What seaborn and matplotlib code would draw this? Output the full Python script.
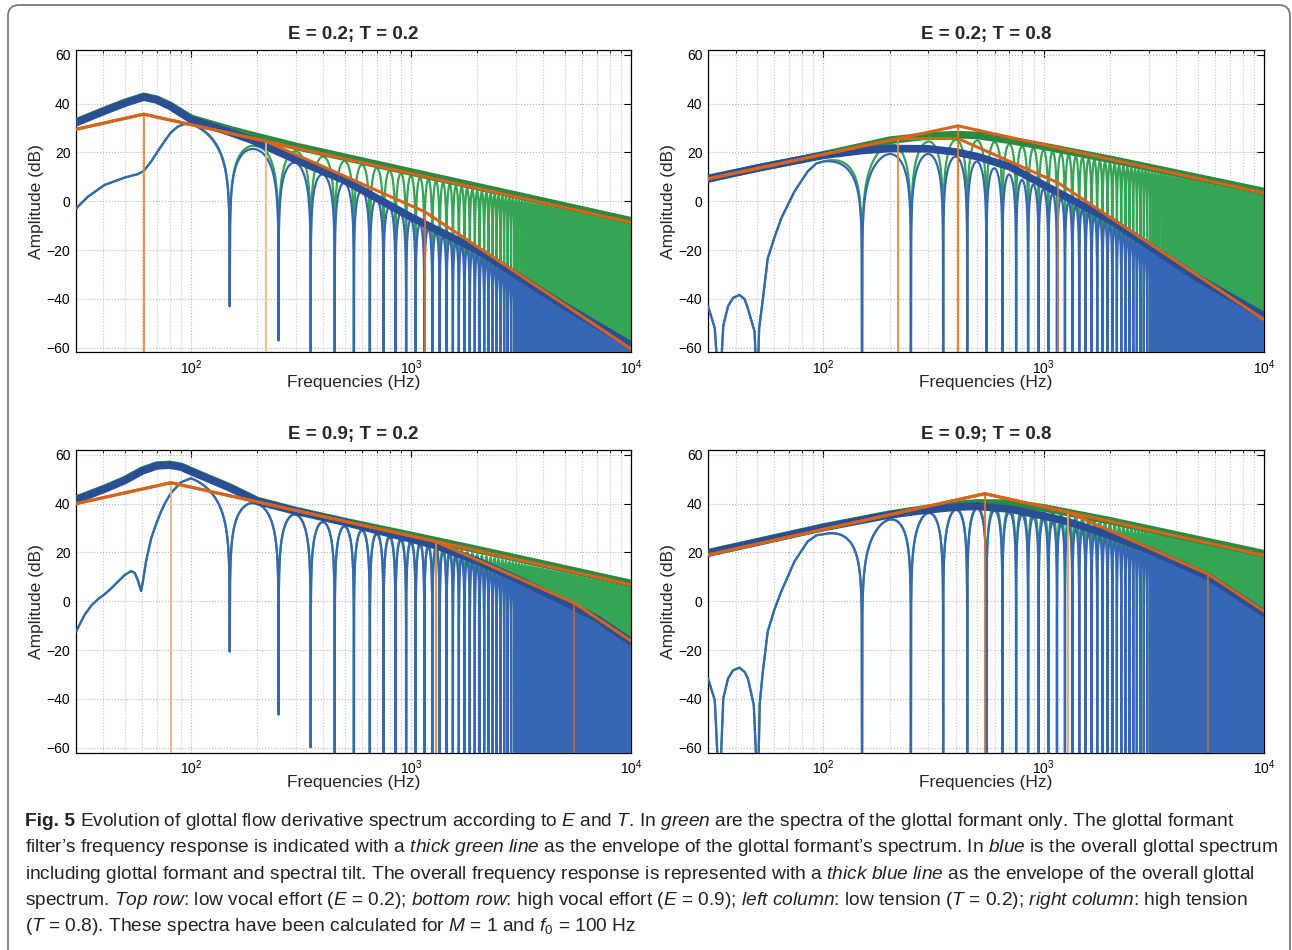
import numpy as np
import matplotlib
matplotlib.use("Agg")
import matplotlib.pyplot as plt
import seaborn as sns
from matplotlib.patches import FancyBboxPatch
from matplotlib.transforms import IdentityTransform
from matplotlib.ticker import FixedLocator, FixedFormatter, NullFormatter

sns.set_theme(style="white")
plt.rcParams.update({
    "font.family": ["Liberation Sans", "DejaVu Sans"],
    "mathtext.fontset": "custom",
    "mathtext.rm": "Liberation Sans",
    "mathtext.it": "Liberation Sans:italic",
    "mathtext.bf": "Liberation Sans:bold",
    "axes.edgecolor": "black",
    "axes.linewidth": 0.9,
})

F0 = 100.0  # f0 from the caption, spacing of the harmonics
X_LIM = (30, 10000)
Y_LIM = (-62, 62)
Y_TICKS = [-60, -40, -20, 0, 20, 40, 60]
X_TICKS = [100, 1000, 10000]
X_TICK_LABELS = ["$10^{2}$", "$10^{3}$", "$10^{4}$"]
TITLES = ["E = 0.2; T = 0.2", "E = 0.2; T = 0.8", "E = 0.9; T = 0.2", "E = 0.9; T = 0.8"]

GREEN = "#35a454"
GREEN_DARK = "#2c8a40"
BLUE = "#3667b4"
BLUE_DARK = "#294e96"
ORANGE = "#d6641a"

# ---- E = 0.2, T = 0.2 (top left)
TL_LOW_F = [30, 34, 40.5, 49.9, 57.2, 61, 65.9, 70.7, 75.7, 81, 87.1, 93, 100]
TL_LOW_DB = [-3.0, 1.9, 6.7, 9.7, 11.1, 12.4, 16.3, 20.6, 24.5, 28.2, 30.6, 31.6, 31.7]
TL_LOBE_GF_F = [100, 200, 300, 400, 600, 1000, 3000, 10000]
TL_LOBE_GF_DB = [31.7, 22.5, 20.5, 18.3, 15.0, 10.5, 0.7, -10.0]
TL_LOBE_ALL_F = [100, 200, 300, 400, 500, 600, 1000, 2000, 5000, 10000]
TL_LOBE_ALL_DB = [31.7, 21.1, 15.7, 10.9, 7.5, 4.5, -7.5, -21.5, -44.5, -60.5]
TL_NOTCH_F = [150, 250]
TL_NOTCH_DB = [-43, -57]
TL_ENV_GF_F = [30, 40, 50, 61, 70, 80, 100, 150, 190, 300, 1000, 3000, 10000]
TL_ENV_GF_DB = [32.5, 37.1, 40.5, 43.0, 41.8, 39.4, 34.0, 29.4, 27.0, 22.5, 12.0, 2.5, -8.0]
TL_ENV_ALL_F = [30, 40, 50, 61, 70, 80, 100, 150, 190, 300, 500, 1000, 2000, 5000, 10000]
TL_ENV_ALL_DB = [32.2, 36.8, 40.2, 42.7, 41.5, 39.0, 33.5, 28.3, 25.0, 17.0, 8.5, -6.5, -20.0, -43.0, -59.0]
TL_ASYM_GF_F = [30, 61, 10000]
TL_ASYM_GF_DB = [29.5, 35.7, -8.6]
TL_ASYM_ALL_F = [30, 61, 219, 1160, 10000]
TL_ASYM_ALL_DB = [29.5, 35.7, 24.6, -4.4, -60.5]
TL_CUT_F = [61, 219, 1160]
TL_CUT_DB = [35.7, 24.6, -4.4]
TL_CUT_COLORS = ["#e8873a", "#e9b988", "#c9743e"]

# ---- E = 0.2, T = 0.8 (top right)
TR_LOW_F = [30, 32.2, 33.8, 35.2, 37.0, 39.0, 41.7, 44.0, 45.5, 48.8, 50.2, 51.2, 53.2, 56, 60.3, 64.5, 74, 85, 93, 100]
TR_LOW_DB = [-43.0, -52.0, -80, -51.0, -43.0, -39.6, -38.4, -40.2, -43.9, -53.4, -80, -52.0, -40.3, -23.4, -14.4, -7.0, 4.0, 12.2, 15.5, 16.3]
TR_LOBE_GF_F = [100, 200, 300, 400, 500, 700, 1000, 2000, 5000, 10000]
TR_LOBE_GF_DB = [16.3, 23.5, 24.5, 25.2, 25.0, 23.5, 21.0, 15.5, 7.8, 2.0]
TR_LOBE_ALL_F = [100, 200, 300, 400, 500, 600, 1000, 2000, 5000, 10000]
TR_LOBE_ALL_DB = [16.3, 19.4, 19.4, 18.3, 16.3, 13.5, 5.0, -9.5, -33.0, -48.5]
TR_NOTCH_F = []
TR_NOTCH_DB = []
TR_ENV_GF_F = [30, 100, 150, 200, 300, 400, 500, 700, 1000, 2000, 5000, 10000]
TR_ENV_GF_DB = [9.4, 19.0, 22.5, 25.0, 26.8, 27.3, 27.0, 25.0, 22.5, 17.2, 9.7, 4.0]
TR_ENV_ALL_F = [30, 50, 100, 150, 200, 300, 400, 500, 700, 1000, 2000, 5000, 10000]
TR_ENV_ALL_DB = [9.1, 13.6, 18.8, 20.8, 21.6, 21.5, 20.2, 18.3, 14.2, 6.7, -7.7, -31.5, -47.0]
TR_ASYM_GF_F = [30, 409, 10000]
TR_ASYM_GF_DB = [9.2, 30.9, 3.4]
TR_ASYM_ALL_F = [30, 219, 409, 1167, 10000]
TR_ASYM_ALL_DB = [9.2, 25.7, 25.7, 7.5, -48.5]
TR_CUT_F = [219, 409, 1167]
TR_CUT_DB = [25.7, 30.9, 7.5]
TR_CUT_COLORS = ["#ec8a35", "#e27a22", "#c47a4a"]

# ---- E = 0.9, T = 0.2 (bottom left)
BL_LOW_F = [30, 32.8, 35.2, 37.8, 40.5, 43.4, 46.6, 50, 53.5, 55.5, 57.2, 58.5, 59.3, 60.4,
            62.5, 65.9, 69.5, 73.1, 77, 81, 90, 100]
BL_LOW_DB = [-12.5, -5.6, -1.8, 0.9, 2.9, 5.3, 8.1, 10.8, 12.4, 11.6, 8.8, 6.0, 4.2, 8.0,
             16.5, 25.8, 31.8, 36.8, 41.0, 44.3, 48.8, 50.4]
BL_LOBE_GF_F = [100, 200, 300, 400, 500, 1000, 2000, 5000, 10000]
BL_LOBE_GF_DB = [50.4, 39.9, 35.5, 32.4, 30.7, 25.2, 19.2, 11.3, 5.3]
BL_LOBE_ALL_F = [100, 200, 300, 400, 500, 1000, 1300, 2000, 3000, 5000, 10000]
BL_LOBE_ALL_DB = [50.4, 39.9, 35.5, 32.4, 30.7, 24.0, 21.5, 15.0, 7.8, -2.0, -18.0]
BL_NOTCH_F = [150, 250, 350]
BL_NOTCH_DB = [-20.6, -46.4, -59.8]
BL_ENV_GF_F = [30, 40, 50, 60, 70, 80, 90, 100, 150, 200, 300, 500, 1000, 2000, 5000, 10000]
BL_ENV_GF_DB = [41.8, 46.1, 49.8, 53.7, 55.8, 56.1, 55.3, 53.5, 46.8, 41.3, 37.2, 32.7, 27.0, 21.2, 13.3, 7.3]
BL_ENV_ALL_F = [30, 40, 50, 60, 70, 80, 90, 100, 150, 200, 300, 500, 1000, 1300, 2000, 3000, 5000, 7000, 10000]
BL_ENV_ALL_DB = [41.5, 45.8, 49.5, 53.4, 55.5, 55.8, 55.0, 53.2, 46.5, 41.0, 36.9, 32.4, 25.5, 22.8, 16.5, 9.3, -0.3, -7.2, -16.6]
BL_ASYM_GF_F = [30, 81, 10000]
BL_ASYM_GF_DB = [40.0, 48.6, 6.8]
BL_ASYM_ALL_F = [30, 81, 1294, 5520, 10000]
BL_ASYM_ALL_DB = [40.0, 48.6, 24.5, -0.7, -16.2]
BL_CUT_F = [81, 1294, 5520]
BL_CUT_DB = [48.6, 24.5, -0.7]
BL_CUT_COLORS = ["#ebb27f", "#d08a50", "#b5683e"]

# ---- E = 0.9, T = 0.8 (bottom right)
BR_LOW_F = [30, 32.2, 33.8, 35.2, 37.0, 39.0, 41.7, 44.0, 45.5, 48.4, 50.5, 51.5, 53.2, 56, 60.3, 64.5, 74, 85, 93, 100]
BR_LOW_DB = [-31.6, -40.5, -80, -39.8, -31.6, -28.3, -27.2, -29.0, -31.6, -42.5, -80, -42.0, -28.8, -12.4, -2.9, 4.0, 16.3, 24.5, 27.0, 27.5]
BR_LOBE_GF_F = [100, 200, 300, 400, 500, 700, 1000, 2000, 5000, 10000]
BR_LOBE_GF_DB = [27.5, 33.5, 36.2, 37.8, 38.8, 38.8, 37.0, 31.6, 23.9, 18.0]
BR_LOBE_ALL_F = [100, 200, 300, 400, 500, 700, 1000, 2000, 3000, 5590, 10000]
BR_LOBE_ALL_DB = [27.5, 33.5, 36.2, 37.5, 38.0, 36.5, 33.5, 25.5, 19.5, 8.7, -6.3]
BR_NOTCH_F = []
BR_NOTCH_DB = []
BR_ENV_GF_F = [30, 100, 200, 300, 400, 500, 700, 1000, 2000, 5000, 10000]
BR_ENV_GF_DB = [19.9, 30.4, 35.7, 38.1, 39.6, 40.3, 40.2, 38.3, 33.0, 25.3, 19.5]
BR_ENV_ALL_F = [30, 100, 200, 300, 400, 500, 700, 1000, 1300, 2000, 3000, 5590, 10000]
BR_ENV_ALL_DB = [19.7, 30.2, 35.4, 37.5, 38.6, 38.9, 37.8, 35.0, 32.5, 27.0, 21.0, 10.1, -4.9]
BR_ASYM_GF_F = [30, 541, 10000]
BR_ASYM_GF_DB = [19.0, 44.1, 18.8]
BR_ASYM_ALL_F = [30, 541, 1292, 5590, 10000]
BR_ASYM_ALL_DB = [19.0, 44.1, 36.5, 11.1, -4.1]
BR_CUT_F = [541, 1292, 5590]
BR_CUT_DB = [44.1, 36.5, 11.1]
BR_CUT_COLORS = ["#dd7524", "#f0a457", "#b07050"]

CAPTION_HEAD = "Fig. 5"
CAPTION = [
    r"Evolution of glottal flow derivative spectrum according to $\mathit{E}$ and $\mathit{T}$. "
    r"In $\mathit{green}$ are the spectra of the glottal formant only. The glottal formant",
    r"filter’s frequency response is indicated with a $\mathit{thick\ green\ line}$ as the envelope of the glottal "
    r"formant’s spectrum. In $\mathit{blue}$ is the overall glottal spectrum",
    r"including glottal formant and spectral tilt. The overall frequency response is represented with a "
    r"$\mathit{thick\ blue\ line}$ as the envelope of the overall glottal",
    r"spectrum. $\mathit{Top\ row}$: low vocal effort ($\mathit{E}$ = 0.2); $\mathit{bottom\ row}$: high vocal effort "
    r"($\mathit{E}$ = 0.9); $\mathit{left\ column}$: low tension ($\mathit{T}$ = 0.2); $\mathit{right\ column}$: high tension",
    r"($\mathit{T}$ = 0.8). These spectra have been calculated for $\mathit{M}$ = 1 and $\mathit{f}_0$ = 100 Hz",
]


def comb(lobe_f, lobe_db, notch_f, notch_db):
    # harmonic lobes above f0: peaks follow the read levels, zeros halfway between harmonics
    f = np.arange(F0 + 0.5, X_LIM[1] + 0.5, 0.5)
    peak = np.interp(np.log10(f), np.log10(lobe_f), lobe_db)
    shape = np.abs(np.cos(np.pi * f / F0))
    db = peak + 20 * np.log10(np.maximum(shape, 1e-6))
    for fn, dn in zip(notch_f, notch_db):
        near = np.abs(f - fn) < F0 / 2
        db[near] = np.maximum(db[near], dn)
    return f, np.maximum(db, -90)


def line(ax, x, y, **kw):
    sns.lineplot(x=np.asarray(x, float), y=np.asarray(y, float), ax=ax,
                 estimator=None, sort=False, **kw)


def draw_panel(ax, p, title):
    gf_f, gf_db = comb(p["lobe_gf_f"], p["lobe_gf_db"], p["notch_f"], p["notch_db"])
    al_f, al_db = comb(p["lobe_all_f"], p["lobe_all_db"], p["notch_f"], p["notch_db"])

    line(ax, np.r_[p["low_f"], gf_f], np.r_[p["low_db"], gf_db], color=GREEN, lw=1.6, zorder=2)
    line(ax, p["env_gf_f"], p["env_gf_db"], color=GREEN_DARK, lw=5.5, zorder=3)
    line(ax, np.r_[p["low_f"], al_f], np.r_[p["low_db"], al_db], color=BLUE, lw=1.6, zorder=4)
    line(ax, p["env_all_f"], p["env_all_db"], color=BLUE_DARK, lw=5.5, zorder=5)
    ax.vlines(p["cut_f"], Y_LIM[0], p["cut_db"], colors=p["cut_colors"], lw=1.3, zorder=6)
    line(ax, p["asym_gf_f"], p["asym_gf_db"], color=ORANGE, lw=2.2, zorder=7)
    line(ax, p["asym_all_f"], p["asym_all_db"], color=ORANGE, lw=2.2, zorder=7)

    ax.set_xscale("log")
    ax.set_xlim(*X_LIM)
    ax.set_ylim(*Y_LIM)
    ax.xaxis.set_major_locator(FixedLocator(X_TICKS))
    ax.xaxis.set_major_formatter(FixedFormatter(X_TICK_LABELS))
    minor = [k * 10 ** e for e in (1, 2, 3) for k in range(2, 10) if k * 10 ** e >= X_LIM[0]]
    ax.xaxis.set_minor_locator(FixedLocator(minor))
    ax.xaxis.set_minor_formatter(NullFormatter())
    ax.set_yticks(Y_TICKS)
    ax.grid(which="major", axis="both", ls=":", color="#b5b5b5", lw=0.8)
    ax.grid(which="minor", axis="x", ls=":", color="#c5c5c5", lw=0.8)
    ax.tick_params(which="both", direction="in", top=True, right=True, labelsize=10,
                   pad=4, colors="black")
    ax.tick_params(which="major", length=5, width=0.8)
    ax.tick_params(which="minor", length=2.5, width=0.6)
    for s in ax.spines.values():
        s.set_visible(True)
        s.set_color("black")
    ax.set_title(title, fontsize=13.5, fontweight="bold", pad=8)
    ax.set_xlabel("Frequencies (Hz)", fontsize=12.5)
    ax.set_ylabel("Amplitude (dB)", fontsize=12.5)
    ax.xaxis.set_label_coords(0.5, -0.075)
    ax.yaxis.set_label_coords(-0.057, 0.5)


def panel(prefix):
    g = globals()
    keys = ["low_f", "low_db", "lobe_gf_f", "lobe_gf_db", "lobe_all_f", "lobe_all_db",
            "notch_f", "notch_db", "env_gf_f", "env_gf_db", "env_all_f", "env_all_db",
            "asym_gf_f", "asym_gf_db", "asym_all_f", "asym_all_db", "cut_f", "cut_db", "cut_colors"]
    return {k: g[prefix + "_" + k.upper()] for k in keys}


fig = plt.figure(figsize=(12.92, 9.5), dpi=100)
W, H = 1292.0, 950.0
boxes = [
    (76, 50, 631, 352.5),
    (708, 50, 1264, 352.5),
    (76, 450, 631, 752.5),
    (708, 450, 1264, 752.5),
]
for (x0, y0, x1, y1), prefix, title in zip(boxes, ["TL", "TR", "BL", "BR"], TITLES):
    ax = fig.add_axes([x0 / W, 1 - y1 / H, (x1 - x0) / W, (y1 - y0) / H])
    draw_panel(ax, panel(prefix), title)

CAP_SIZE = 13.75
renderer = fig.canvas.get_renderer()
head = fig.text(25 / W, 1 - 826 / H, CAPTION_HEAD, fontsize=CAP_SIZE, fontweight="bold",
                va="baseline", ha="left", color="#222222")
head_w = head.get_window_extent(renderer).width
for i, txt in enumerate(CAPTION):
    x = 25 + (head_w + 5 if i == 0 else 0)
    fig.text(x / W, 1 - (826 + 26.3 * i) / H, txt, fontsize=CAP_SIZE, va="baseline", ha="left",
             color="#222222")

frame = FancyBboxPatch((8, -40), 1282, 985, boxstyle="round,pad=0,rounding_size=11",
                       transform=IdentityTransform(), fill=False, ec="#7a7a7a", lw=1.3)
fig.add_artist(frame)

fig.savefig("out.png", dpi=100)
